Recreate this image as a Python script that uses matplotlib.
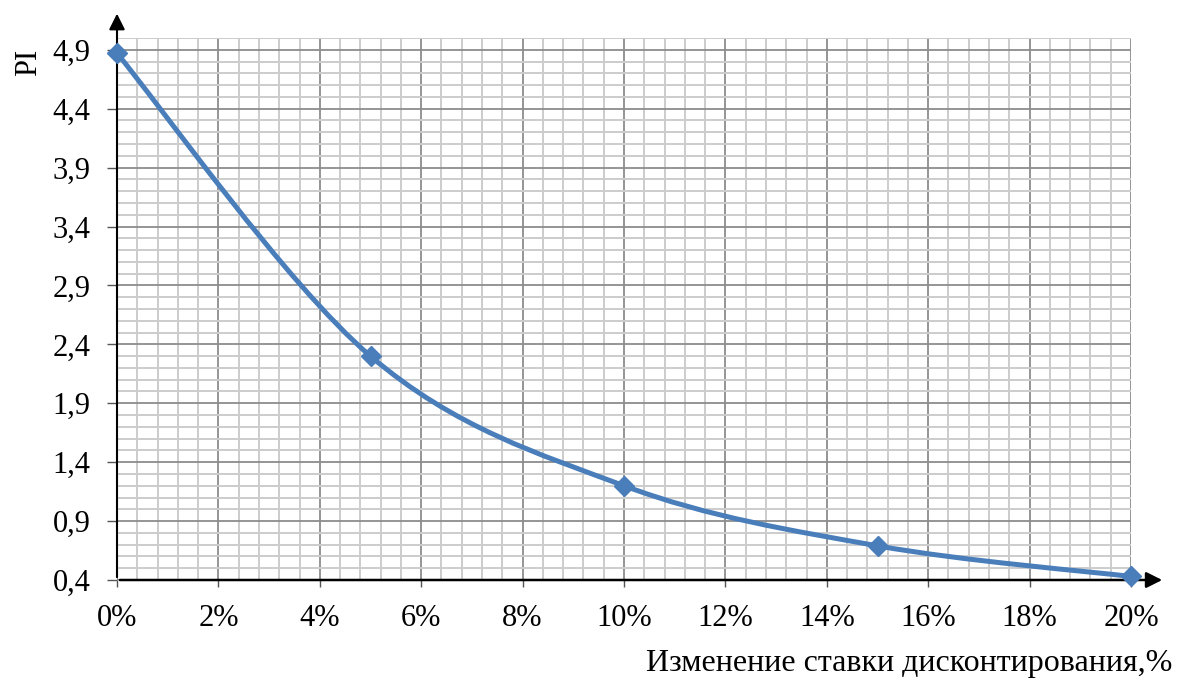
import matplotlib as mpl
mpl.use('Agg')
import matplotlib.pyplot as plt
from matplotlib.path import Path
from matplotlib.patches import PathPatch
from matplotlib.ticker import MultipleLocator, FixedLocator
import numpy as np

# data
rate = [0, 5, 10, 15, 20]            # change of discount rate, %
pi_vals = [4.87, 2.30, 1.20, 0.69, 0.43]

x_ticks = [0, 2, 4, 6, 8, 10, 12, 14, 16, 18, 20]
x_labels = ['%d%%' % v for v in x_ticks]
y_ticks = [0.4, 0.9, 1.4, 1.9, 2.4, 2.9, 3.4, 3.9, 4.4, 4.9]
y_labels = [('%.1f' % v).replace('.', ',') for v in y_ticks]

blue = '#4A7EBB'
plt.rcParams['font.family'] = ['Liberation Serif', 'DejaVu Serif']

fig = plt.figure(figsize=(11.8, 6.79), dpi=100)
ax = fig.add_axes([117 / 1180, 1 - 580 / 679, (1131 - 117) / 1180, (580 - 38) / 679])
ax.set_xlim(0, 20)
ax.set_ylim(0.4, 5.0)

# grid
ax.xaxis.set_major_locator(FixedLocator(x_ticks))
ax.xaxis.set_minor_locator(MultipleLocator(0.4))
ax.yaxis.set_major_locator(FixedLocator(y_ticks))
ax.yaxis.set_minor_locator(MultipleLocator(0.1))
ax.grid(which='minor', color='#cccccc', linewidth=1.4)
ax.grid(which='major', color='#8c8c8c', linewidth=1.3)
ax.set_axisbelow(True)
ax.set_xticklabels(x_labels)
ax.set_yticklabels(y_labels)
ax.tick_params(which='minor', length=0)
ax.tick_params(axis='y', which='major', length=7, width=1, color='#555555', labelsize=22, pad=12)
ax.tick_params(axis='x', which='major', length=5, width=1, color='#555555', labelsize=22, pad=12)

for side in ['top', 'right', 'left', 'bottom']:
    ax.spines[side].set_visible(False)

# axis lines with arrows
ax.annotate('', xy=(0, 1.05), xytext=(0, 0), xycoords='axes fraction',
            arrowprops=dict(arrowstyle='-|>', color='black', lw=1.5, mutation_scale=24),
            annotation_clip=False)
ax.annotate('', xy=(1.0335, 0), xytext=(0, 0), xycoords='axes fraction',
            arrowprops=dict(arrowstyle='-|>', color='black', lw=1.8, mutation_scale=24),
            annotation_clip=False)

# smoothed line (Excel-like bezier through points)
pts = np.column_stack([rate, pi_vals])
n = len(pts)
verts = [tuple(pts[0])]
codes = [Path.MOVETO]
for i in range(n - 1):
    p0 = pts[i - 1] if i > 0 else pts[i]
    p1 = pts[i]
    p2 = pts[i + 1]
    p3 = pts[i + 2] if i + 2 < n else pts[i + 1]
    c1 = p1 + (p2 - p0) / 6.0
    c2 = p2 - (p3 - p1) / 6.0
    verts += [tuple(c1), tuple(c2), tuple(p2)]
    codes += [Path.CURVE4] * 3
ax.add_patch(PathPatch(Path(verts, codes), facecolor='none', edgecolor=blue,
                       lw=3.6, capstyle='round', joinstyle='round', zorder=3, clip_on=False))
ax.plot(rate, pi_vals, linestyle='none', marker='D', markersize=10, color=blue,
        zorder=4, clip_on=False)

fig.text(29 / 1180, 1 - 62 / 679, 'PI', rotation=90, fontsize=22, ha='center', va='center')
fig.text(1172 / 1180, 1 - 664 / 679, 'Изменение ставки дисконтирования,%', fontsize=23,
         ha='right', va='center')

plt.savefig('out.png', dpi=100)
